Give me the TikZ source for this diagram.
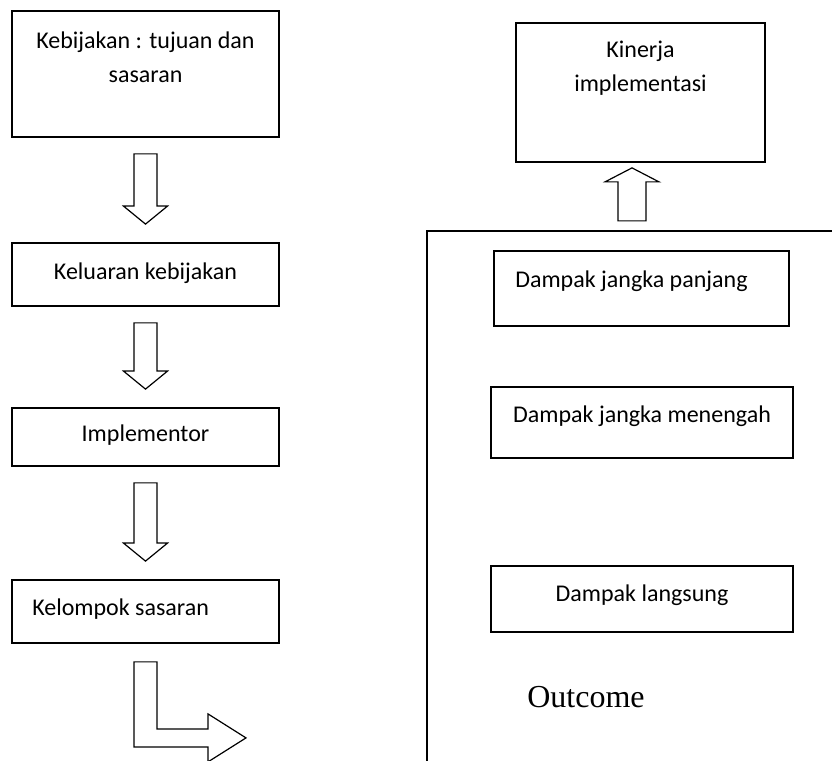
\documentclass[tikz,border=0pt]{standalone}
\usepackage{fontspec}
\setmainfont{Carlito}
\newfontfamily\outcomefont{Liberation Serif}
\usetikzlibrary{calc,positioning}
\tikzset{
    diagrampx/.style={
        x=1pt, y=1pt,
        line join = miter,
    },
    kotak/.style={draw, line width=1.8pt, inner sep=0pt},
    tulisan/.style={inner sep=0pt, font=\fontsize{24}{34}\selectfont, align=center},
    panah/.style={draw, line width=1.2pt, line join=miter},
    bingkai/.style={draw, line width=1.8pt},
}
\newcommand{\panahturun}[2]{% block arrow from box #1 down to box #2
  \draw[panah] let \p1=(#1.south), \p2=(#2.north) in
    (\x1-11.5pt,\y1-16pt) -- (\x1+11.5pt,\y1-16pt) -- (\x1+11.5pt,\y2+36pt)
    -- (\x1+22pt,\y2+36pt) -- (\x1,\y2+18pt) -- (\x1-22pt,\y2+36pt)
    -- (\x1-11.5pt,\y2+36pt) -- cycle;}

\begin{document}
\begin{tikzpicture}[diagrampx]
    \useasboundingbox (0,0) rectangle (832,760);
    % left column
    \node[kotak, minimum width=267, minimum height=126] (kebijakan) at (145.5,686) {};
    \node[kotak, minimum width=267, minimum height=63] (keluaran) at (145.5,485.5) {};
    \node[kotak, minimum width=267, minimum height=58] (implementor) at (145.5,323) {};
    \node[kotak, minimum width=267, minimum height=63] (kelompok) at (145.5,148.5) {};
    \node[tulisan] (tkebijakan) at ([yshift=-47]kebijakan.north) {Kebijakan : tujuan dan\\sasaran};
    \node[tulisan] (tkeluaran) at ([yshift=-31]keluaran.north) {Keluaran kebijakan};
    \node[tulisan] (timplementor) at ([yshift=-28]implementor.north) {Implementor};
    \node[tulisan, anchor=west] (tkelompok) at ([shift={(21,-30)}]kelompok.north west) {Kelompok sasaran};
    \panahturun{kebijakan}{keluaran}
    \panahturun{keluaran}{implementor}
    \panahturun{implementor}{kelompok}
    \draw[panah] ([shift={(-11.5,-18)}]kelompok.south) -- ++(23,0) -- ++(0,-67) -- ++(51,0)
        -- ++(0,15) -- ++(38,-24) -- ++(-38,-24) -- ++(0,15) -- ++(-74,0) -- cycle;
    % right column
    \node[kotak, minimum width=249, minimum height=139] (kinerja) at (640.5,667.5) {};
    \node[tulisan] (tkinerja) at ([yshift=-46.5]kinerja.north) {Kinerja\\implementasi};
    \coordinate (ujung) at ([shift={(-8.5,-5)}]kinerja.south);
    \draw[panah] (ujung) -- ++(27,-14) -- ++(-13,0) -- ++(0,-39) -- ++(-28,0)
        -- ++(0,39) -- ++(-13,0) -- cycle;
    \draw[bingkai] (836,529) -- (427,529) -- (427,-4);
    \node[kotak, minimum width=295, minimum height=75] (panjang) at (641.5,471.5) {};
    \node[kotak, minimum width=302, minimum height=71] (menengah) at (642,337.5) {};
    \node[kotak, minimum width=302, minimum height=66] (langsung) at (642,161) {};
    \node[tulisan, anchor=west] (tpanjang) at ([shift={(22,-31)}]panjang.north west) {Dampak jangka panjang};
    \node[tulisan] (tmenengah) at ([yshift=-30]menengah.north) {Dampak jangka menengah};
    \node[tulisan] (tlangsung) at ([yshift=-30]langsung.north) {Dampak langsung};
    \node[inner sep=0pt, font=\outcomefont\fontsize{32}{38}\selectfont] (outcome) at (586,63) {Outcome};
\end{tikzpicture}
\end{document}
